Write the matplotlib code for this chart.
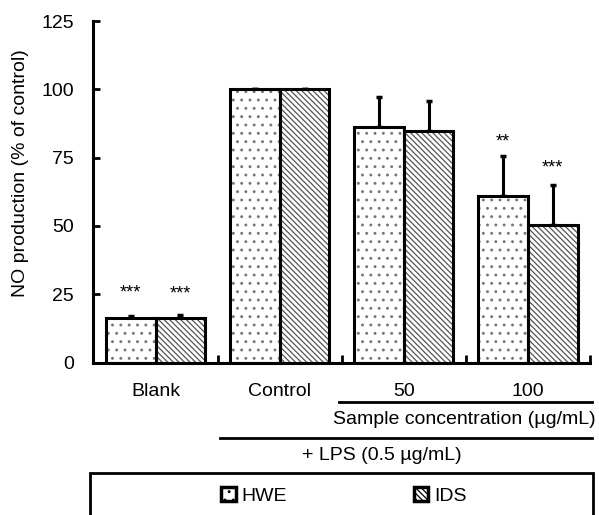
import matplotlib
matplotlib.use("Agg")
import matplotlib.pyplot as plt
import matplotlib.transforms as mtransforms
from matplotlib.patches import Rectangle, Patch
import numpy as np

plt.rcParams['font.family'] = ['Liberation Sans', 'DejaVu Sans']
plt.rcParams['hatch.linewidth'] = 0.9

# data
categories = ['Blank', 'Control', '50', '100']
hwe = [16.2, 100, 86.2, 61.0]
ids = [16.3, 100, 84.8, 50.2]
hwe_err = [1.0, 0, 11.0, 14.6]
ids_err = [1.0, 0, 11.0, 14.6]
hwe_stars = ['***', '', '', '**']
ids_stars = ['***', '', '', '***']
hwe_star_y = [25.6, 0, 0, 80.6]
ids_star_y = [24.9, 0, 0, 71.3]

DOTS = '..'
LINES = '\\\\\\\\\\\\'

W, H = 599, 515
fig = plt.figure(figsize=(W / 100, H / 100), dpi=100)
ax = fig.add_axes([93.5 / W, 1 - 362.5 / H, 496.5 / W, 341.5 / H])

x = np.arange(len(categories))
bw = 0.4

# hatch fill (gray), then black outlines
ax.bar(x - bw / 2, hwe, bw, color='white', edgecolor='#777777', hatch=DOTS, linewidth=0, zorder=2)
ax.bar(x + bw / 2, ids, bw, color='white', edgecolor='#555555', hatch=LINES, linewidth=0, zorder=2)
ax.bar(x - bw / 2, hwe, bw, fill=False, edgecolor='black', linewidth=2.2, zorder=3)
ax.bar(x + bw / 2, ids, bw, fill=False, edgecolor='black', linewidth=2.2, zorder=3)

# upper error bars only
zeros = np.zeros(len(x))
ax.errorbar(x - bw / 2, hwe, yerr=[zeros, hwe_err], fmt='none', ecolor='black',
            elinewidth=2.2, capsize=2.5, capthick=2.5, zorder=1)
ax.errorbar(x + bw / 2, ids, yerr=[zeros, ids_err], fmt='none', ecolor='black',
            elinewidth=2.2, capsize=2.5, capthick=2.5, zorder=1)

for i in range(len(x)):
    if hwe_stars[i]:
        ax.text(x[i] - bw / 2, hwe_star_y[i], hwe_stars[i], ha='center', va='center', fontsize=13)
    if ids_stars[i]:
        ax.text(x[i] + bw / 2, ids_star_y[i], ids_stars[i], ha='center', va='center', fontsize=13)

ax.set_xlim(-0.5, 3.5)
ax.set_ylim(0, 125)
ax.set_yticks([0, 25, 50, 75, 100, 125])
ax.tick_params(axis='y', direction='in', length=5, width=2, labelsize=14, pad=14)
ax.set_xticks(x)
ax.set_xticklabels(categories)
ax.tick_params(axis='x', which='major', length=0, labelsize=14, pad=15)
ax.set_xticks(np.arange(0.5, 4.0, 1.0), minor=True)
ax.tick_params(axis='x', which='minor', direction='in', length=6, width=2)

for s in ['top', 'right']:
    ax.spines[s].set_visible(False)
for s in ['left', 'bottom']:
    ax.spines[s].set_linewidth(2.2)

ax.set_ylabel('NO production (% of control)', fontsize=14, labelpad=9, y=0.556)

# group annotations under the axis
tr = mtransforms.blended_transform_factory(ax.transData, fig.transFigure)
y1 = 1 - 401.7 / H
y2 = 1 - 437.7 / H
ax.plot([1.48, 3.52], [y1, y1], color='black', lw=2, transform=tr, clip_on=False)
ax.text(3.545, 1 - 420 / H, 'Sample concentration (µg/mL)', transform=tr, ha='right', va='center', fontsize=14)
ax.plot([0.52, 3.52], [y2, y2], color='black', lw=2, transform=tr, clip_on=False)
ax.text(1.18, 1 - 456 / H, '+ LPS (0.5 µg/mL)', transform=tr, ha='left', va='center', fontsize=14)

# legend box
fig.patches.append(Rectangle((90 / W, -0.05), 503 / W, 0.05 + 1 - 473 / H, fill=False,
                             edgecolor='black', linewidth=2, transform=fig.transFigure))
handles = [Patch(facecolor='white', edgecolor='black', hatch=DOTS, linewidth=2.5),
           Patch(facecolor='white', edgecolor='black', hatch=LINES, linewidth=2.5)]
fig.legend(handles, ['HWE', 'IDS'], loc='center', bbox_to_anchor=(344 / W, 1 - 496 / H),
           ncol=2, frameon=False, fontsize=14, handlelength=0.75, handleheight=0.75,
           handletextpad=0.3, columnspacing=6.5)

fig.savefig('out.png', dpi=100)
